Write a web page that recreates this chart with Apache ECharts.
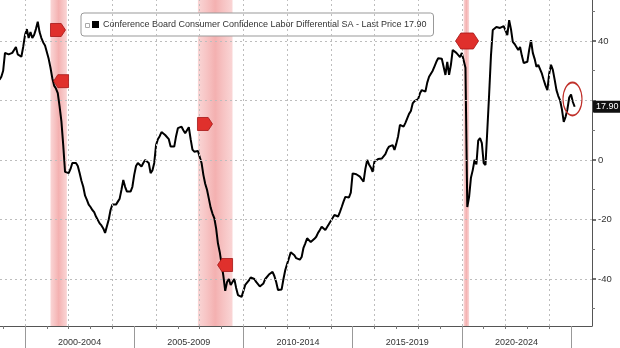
<!DOCTYPE html>
<html><head><meta charset="utf-8">
<script src="https://cdn.jsdelivr.net/npm/echarts@6/dist/echarts.min.js"></script>
<style>html,body{margin:0;padding:0;background:#fff}#c{width:620px;height:348px}</style>
</head><body><div id="c"></div>
<script>
const seriesName = 'Conference Board Consumer Confidence Labor Differential SA';
const startYear = 1998, startMonth = 11; // first value: Nov 1998, monthly
const v1998_1999 = [27, 28,
  30, 36, 36, 35.5, 36, 36, 37, 38, 35.5, 35, 34.7, 38];
const v2000_2004 = [
  42, 44, 41, 43, 41, 42, 44, 46.5, 43, 41, 39.5, 38.5,
  38, 34, 31, 27.5, 25, 24, 22.5, 18, 13, 5, -4, -4.4,
  -4.4, -3, -1, -0.7, -1, -2, -4.4, -7, -9, -12, -13.4, -15,
  -15.8, -16.8, -17.5, -19, -19.5, -21.3, -22, -23, -24.5, -25, -20, -16.8,
  -15, -14.6, -15, -14, -13, -10, -6.7, -9, -10.6, -10.4, -10.6, -9];
const v2005_2009 = [
  -5, -2, -1, -1.5, -2.2, -1, 0, 0.3, -1, -4.4, -3.5, -1,
  5, 7, 8, 9.4, 9, 8.4, 8.5, 7, 4.5, 4, 4.5, 8,
  10.7, 11, 11.2, 10, 9, 10, 11, 7, 3.5, 2.8, 3, 3,
  2.5, -1, -5, -8, -10, -13, -16, -18, -19.5, -23, -28, -31,
  -35, -39, -44, -41, -40, -42, -42.5, -40, -43, -45.4, -45, -46];
const v2010_2014 = [
  -44, -42, -41.4, -40.5, -39.5, -39.2, -40, -41, -41.5, -42.5, -43, -41.5,
  -40, -39.5, -38.5, -38, -37.6, -39, -41, -43.7, -44, -43.5, -40, -37,
  -35, -33, -31, -30.5, -32, -33, -33, -33.5, -32.6, -29.5, -28, -26.3,
  -26.5, -27.6, -27, -26.5, -25.8, -24.5, -23.5, -22.4, -23, -23.5, -22.5, -21.5,
  -20.5, -20.2, -18.5, -18, -19, -17.5, -15.8, -14, -12.4, -12.5, -12.6, -11];
const v2015_2019 = [
  -4.5, -4, -4.8, -5, -5.6, -6, -7.3, -3, 0, -1.5, -2.5, -4,
  -0.5, 0, 0.3, 0.6, 0.5, 0, 2, 3.5, 4.5, 4.8, 5, 3.4,
  5.5, 8, 11.8, 11.5, 11.2, 12.5, 14, 15.5, 16.5, 19, 19.8, 20,
  20.5, 22.4, 23.5, 24, 23, 26, 28, 29, 30, 31.5, 33, 34.2,
  34, 34, 33.5, 28.6, 33, 28.6, 32, 37, 36.5, 36, 35.5, 34.6];
const v2020_2025 = [
  36, 33.5, 31, -15.8, -12.4, -6, -3.4, 0, -1.5, 6.5, 7.4, 5.7,
  -1, -1.7, 10, 22, 35, 43.7, 44, 44.7, 44.2, 44.4, 44.4, 45,
  45.4, 42, 47, 44, 39.7, 39, 38, 37, 38, 35, 32.6, 32.8,
  33, 37, 40.3, 36, 34, 31.3, 32, 32.6, 29, 26.9, 25, 23.5,
  29, 32, 30.3, 27, 23.5, 21.5, 20, 17, 12.8, 14.5, 17, 21,
  22, 19.5, 17.9];

const periodLabels = ['2000-2004', '2005-2009', '2010-2014', '2015-2019', '2020-2024'];
const periodCenters = [2002.5, 2007.5, 2012.5, 2017.5, 2022.5];
const periodBounds = [2000, 2005, 2010, 2015, 2020, 2025];
const yearTicks = [1999, 2000, 2001, 2002, 2003, 2004, 2005, 2006, 2007, 2008, 2009, 2010, 2011, 2012,
  2013, 2014, 2015, 2016, 2017, 2018, 2019, 2020, 2021, 2022, 2023, 2024, 2025];
const gridYears = [2000, 2002, 2004, 2006, 2008, 2010, 2012, 2014, 2016, 2018, 2020, 2022, 2024];
const yGridValues = [-40, -20, 0, 20, 40];
const yLabelValues = [-40, -20, 0, 40];
const yMinorTicks = [-50, -30, -10, 10, 30, 50];
// recessions: [start year, start month, end year, end month]
const recessions = [[2001, 3, 2001, 11], [2007, 12, 2009, 6], [2020, 2, 2020, 4]];
// event flags: [decimal year, value, shape]
const flags = [[2001.51, 43.7, 'r'], [2001.65, 26.5, 'l'], [2008.24, 12.1, 'r'], [2009.16, -35.3, 'l'], [2020.24, 40, 'h']];
const xMin = 1998.855, xMax = 2025.96, yMin = -55.8, yMax = 53.78;

const values = [].concat(v1998_1999, v2000_2004, v2005_2009, v2010_2014, v2015_2019, v2020_2025);
const points = values.map((v, i) => [startYear + (startMonth - 1 + i) / 12, v]);
const lastValue = values[values.length - 1];
const lastX = points[points.length - 1][0];

const FONT = '"Liberation Sans", Arial, sans-serif';
const shapes = {
  r: 'path://M0,0 L10,0 L14,5 L10,10 L0,10 Z',
  l: 'path://M4,0 L14,0 L14,10 L4,10 L0,5 Z',
  h: 'path://M0,5 L5,0 L17,0 L22,5 L17,10 L5,10 Z'
};
const bandColor = {
  type: 'linear', x: 0, y: 0, x2: 1, y2: 0,
  colorStops: [
    { offset: 0, color: 'rgba(246,185,185,0.6)' },
    { offset: 0.5, color: 'rgba(240,150,150,0.75)' },
    { offset: 1, color: 'rgba(246,185,185,0.6)' }
  ]
};
const ym = (y, m, end) => y + (m - 1 + (end ? 1 : 0)) / 12;

const chart = echarts.init(document.getElementById('c'), null, { renderer: 'canvas' });
chart.setOption({
  animation: false,
  backgroundColor: '#fff',
  grid: { left: 0, right: 28, top: 0, bottom: 22, containLabel: false },
  legend: {
    left: 81, top: 13,
    padding: [7, 7, 7, 11],
    borderColor: '#999', borderWidth: 1, borderRadius: 3,
    backgroundColor: '#fff',
    itemWidth: 7, itemHeight: 7, itemGap: 4,
    icon: 'rect',
    data: [seriesName],
    formatter: n => n + ' - Last Price ' + lastValue.toFixed(2),
    textStyle: { fontFamily: FONT, fontSize: 9, color: '#333', padding: [0, 0, 0, -1] }
  },
  graphic: [{ type: 'rect', left: 85, top: 23, shape: { width: 4, height: 4 }, style: { fill: '#fff', stroke: '#aaa', lineWidth: 1 }, z: 100 }],
  xAxis: [{
    type: 'value', min: xMin, max: xMax, position: 'bottom',
    axisLine: { show: true, onZero: false, lineStyle: { color: '#555', width: 1 } },
    axisTick: { show: true, customValues: yearTicks, length: 3, lineStyle: { color: '#777' } },
    axisLabel: {
      customValues: periodCenters, margin: 12,
      formatter: v => periodLabels[periodCenters.indexOf(v)],
      fontFamily: FONT, fontSize: 9, color: '#333'
    },
    splitLine: { show: false }
  }, {
    type: 'value', min: xMin, max: xMax, position: 'bottom',
    axisLine: { show: false, onZero: false },
    axisTick: { show: true, customValues: periodBounds, length: 24, lineStyle: { color: '#999' } },
    axisLabel: { show: false },
    splitLine: { show: false }
  }],
  yAxis: [{
    type: 'value', min: yMin, max: yMax, position: 'right',
    axisLine: { show: true, onZero: false, lineStyle: { color: '#555', width: 1 } },
    axisTick: { show: true, customValues: yGridValues, length: 4, lineStyle: { color: '#444', width: 1.5 } },
    axisLabel: { customValues: yLabelValues, margin: 6, fontFamily: FONT, fontSize: 9.5, color: '#333' },
    splitLine: { show: false }
  }, {
    type: 'value', min: yMin, max: yMax, position: 'right',
    axisLine: { show: false, onZero: false },
    axisTick: { show: true, customValues: yMinorTicks, length: 3, lineStyle: { color: '#777' } },
    axisLabel: { show: false },
    splitLine: { show: false }
  }],
  series: [{
    type: 'line', name: '_grid', data: [], silent: true, z: 1,
    markArea: {
      silent: true,
      itemStyle: { color: bandColor },
      data: recessions.map(r => [{ xAxis: ym(r[0], r[1], false) }, { xAxis: ym(r[2], r[3], true) }])
    },
    markLine: {
      silent: true, symbol: ['none', 'none'],
      label: { show: false },
      lineStyle: { type: [2, 3], color: '#bdbdbd', width: 1 },
      data: gridYears.map(x => ({ xAxis: x })).concat(yGridValues.map(y => ({ yAxis: y })))
    }
  }, {
    type: 'line', name: seriesName, data: points, z: 3,
    showSymbol: false, symbol: 'none',
    lineStyle: { color: '#000', width: 2 },
    itemStyle: { color: '#000' },
    markLine: {
      silent: true, symbol: ['none', 'none'],
      lineStyle: { width: 0, color: 'rgba(255,255,255,0)' },
      label: {
        show: true, position: 'end', distance: 1,
        formatter: () => lastValue.toFixed(2),
        backgroundColor: '#111', color: '#fff', padding: [2, 3, 1, 3],
        fontFamily: FONT, fontSize: 9, borderRadius: 1, opacity: 1
      },
      data: [{ yAxis: lastValue }]
    },
    markPoint: {
      silent: true,
      label: { show: false },
      data: flags.map(f => ({
        coord: [f[0], f[1]], symbol: shapes[f[2]],
        symbolSize: f[2] === 'h' ? [23, 16] : [15, 13],
        itemStyle: { color: '#e0302c', borderColor: '#a51616', borderWidth: 0.8 }
      })).concat([{
        coord: [lastX - 0.1, lastValue + 2.6], symbol: 'circle', symbolSize: [19, 33],
        itemStyle: { color: 'rgba(0,0,0,0)', borderColor: '#c0302a', borderWidth: 1.5 }
      }])
    }
  }]
});
</script></body></html>
